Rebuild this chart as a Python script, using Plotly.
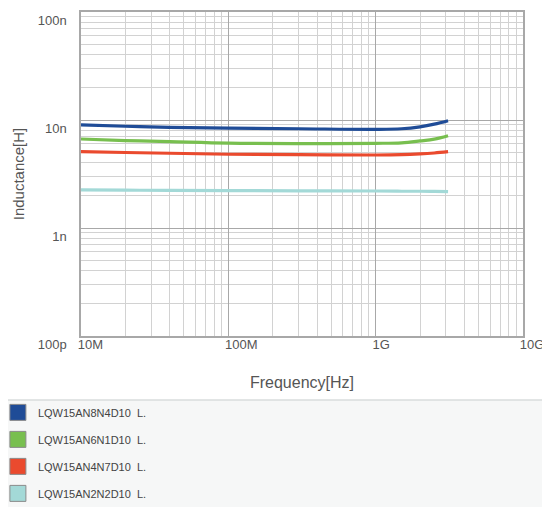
import plotly.graph_objects as go

freq_hz = [1e7, 2e7, 4e7, 1e8, 3e8, 1e9, 1.5e9, 2e9, 2.5e9, 3.1e9]
l_8n4 = [9.0, 8.75, 8.56, 8.4, 8.3, 8.2, 8.3, 8.65, 9.15, 9.85]
l_6n1 = [6.67, 6.45, 6.3, 6.1, 6.05, 6.08, 6.15, 6.4, 6.65, 7.15]
l_4n7 = [5.09, 5.0, 4.92, 4.82, 4.77, 4.74, 4.77, 4.85, 4.95, 5.09]
l_2n2 = [2.25, 2.24, 2.23, 2.22, 2.21, 2.2, 2.19, 2.19, 2.18, 2.17]

names = ["LQW15AN8N4D10  L.", "LQW15AN6N1D10  L.", "LQW15AN4N7D10  L.", "LQW15AN2N2D10  L."]
series = [l_8n4, l_6n1, l_4n7, l_2n2]
colors = ["#1f4c97", "#78bf4f", "#ea4a2e", "#a3d9d7"]

x_tickvals = [1e7, 1e8, 1e9, 1e10]
x_ticktext = ["10M", "100M", "1G", "10G"]
y_tickvals = [1e-10, 1e-9, 1e-8, 1e-7]
y_ticktext = ["100p", "1n", "10n", "100n"]

x_minor = [m * 10 ** e for e in range(7, 10) for m in range(2, 10)]
y_minor = [m * 10.0 ** e for e in range(-10, -7) for m in range(2, 10)]

fig = go.Figure()
for name, vals, c in zip(names, series, colors):
    fig.add_trace(go.Scatter(
        x=freq_hz, y=[v * 1e-9 for v in vals], mode="lines",
        line=dict(color=c, width=3.2, shape="spline"),
        showlegend=False, hoverinfo="skip"))
for i, (name, c) in enumerate(zip(names, colors)):
    fig.add_trace(go.Scatter(
        x=[None], y=[None], mode="markers", name=name,
        marker=dict(symbol="square", size=16, color=c, line=dict(color="#8a8a8a", width=1)),
        legendgroup=f"g{i}", showlegend=True))

grid_major = "#a8a8a8"
grid_minor = "#d2d2d2"
font_col = "#555555"

fig.update_layout(
    width=550, height=507,
    margin=dict(l=73, r=35, t=4, b=179, autoexpand=False),
    paper_bgcolor="white", plot_bgcolor="white",
    font=dict(family="Liberation Sans, Arial, sans-serif", color=font_col, size=12),
    showlegend=True,
    legend=dict(
        x=-0.188, xanchor="left", y=-0.191, yanchor="top",
        bgcolor="rgba(0,0,0,0)", font=dict(size=11, color="#444444"),
        traceorder="grouped", tracegroupgap=8, itemsizing="trace",
    ),
    shapes=[dict(type="rect", xref="paper", yref="paper",
                 x0=-0.3, x1=1.2, y0=-0.6, y1=-0.1975,
                 fillcolor="#f6f7f7", line=dict(width=0), layer="below"),
            dict(type="line", xref="paper", yref="paper",
                 x0=-0.3, x1=1.2, y0=-0.1975, y1=-0.1975,
                 line=dict(color="#d8dcdc", width=1.5))],
)

fig.update_xaxes(
    type="log", range=[7, 10], automargin=False,
    tickvals=x_tickvals, ticktext=x_ticktext,
    showgrid=True, gridcolor=grid_major, gridwidth=1.2,
    minor=dict(tickvals=x_minor, showgrid=True, gridcolor=grid_minor, gridwidth=1, ticklen=0),
    showline=True, linecolor=grid_major, linewidth=1.5, mirror=True,
    ticks="", tickfont=dict(size=13, color=font_col),
    ticklabelposition="outside right", ticklabelshift=-4, ticklabelstandoff=-4,
    title=dict(text="Frequency[Hz]", font=dict(size=16, color=font_col), standoff=25),
    zeroline=False,
)
fig.update_yaxes(
    type="log", range=[-10, -7], automargin=False,
    tickvals=y_tickvals, ticktext=y_ticktext,
    showgrid=True, gridcolor=grid_major, gridwidth=1.2,
    minor=dict(tickvals=y_minor, showgrid=True, gridcolor=grid_minor, gridwidth=1, ticklen=0),
    showline=True, linecolor=grid_major, linewidth=1.5, mirror=True,
    ticks="", tickfont=dict(size=13, color=font_col), ticklabelstandoff=10,
    ticklabelshift=8,
    title=dict(text="Inductance[H]", font=dict(size=15, color=font_col), standoff=9),
    zeroline=False,
)

fig.write_html("out.html")
